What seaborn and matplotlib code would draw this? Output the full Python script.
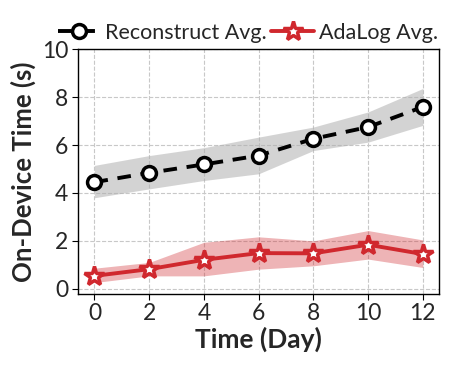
import matplotlib
matplotlib.use("Agg")
import matplotlib.pyplot as plt
import seaborn as sns
import pandas as pd

days = [0, 2, 4, 6, 8, 10, 12]
recon_avg = [4.45, 4.84, 5.19, 5.56, 6.26, 6.75, 7.59]
recon_low = [3.80, 4.17, 4.52, 4.80, 5.77, 6.12, 6.82]
recon_high = [5.15, 5.56, 5.89, 6.33, 6.75, 7.38, 8.36]
ada_avg = [0.54, 0.82, 1.21, 1.49, 1.48, 1.84, 1.45]
ada_low = [0.26, 0.54, 0.54, 0.82, 0.96, 1.24, 0.89]
ada_high = [0.86, 1.10, 1.94, 2.17, 2.00, 2.43, 2.04]

sns.set_theme(style="ticks")
plt.rcParams['font.family'] = ['Lato', 'DejaVu Sans']

fig, ax = plt.subplots(figsize=(4.59, 3.67), dpi=100)
red = '#D0282E'

df_r = pd.DataFrame({'day': days, 'val': recon_avg})
df_a = pd.DataFrame({'day': days, 'val': ada_avg})

ax.fill_between(days, recon_low, recon_high, color='#b0b0b0', alpha=0.55, linewidth=0)
ax.fill_between(days, ada_low, ada_high, color=red, alpha=0.35, linewidth=0)

sns.lineplot(data=df_r, x='day', y='val', ax=ax, color='black', linewidth=2.8,
             linestyle=(0, (3.5, 2.5)), marker='o', markersize=10, markerfacecolor='white',
             markeredgecolor='black', markeredgewidth=2.5, label='Reconstruct Avg.')
sns.lineplot(data=df_a, x='day', y='val', ax=ax, color=red, linewidth=2.8,
             marker='*', markersize=15, markerfacecolor='white',
             markeredgecolor=red, markeredgewidth=2.5, label='AdaLog Avg.')

ax.set_xlim(-0.6, 12.6)
ax.set_ylim(-0.2, 10)
ax.set_xticks(days)
ax.set_yticks([0, 2, 4, 6, 8, 10])
ax.grid(True, linestyle='--', color='#c8c8c8', linewidth=0.8)
ax.tick_params(labelsize=16.5, length=4, width=0.8, color='black', pad=3)
for s in ax.spines.values():
    s.set_color('black')
    s.set_linewidth(1.0)
ax.set_xlabel('Time (Day)', fontsize=19, fontweight='bold', labelpad=2)
ax.set_ylabel('On-Device Time (s)', fontsize=18.5, fontweight='bold', labelpad=4)

ax.legend(loc='lower center', bbox_to_anchor=(0.47, 0.99), ncol=2, frameon=False,
          fontsize=15.5, handlelength=2.0, handletextpad=0.2, columnspacing=0.2,
          borderaxespad=0)

fig.subplots_adjust(left=0.17, right=0.957, top=0.866, bottom=0.2)
fig.savefig('out.png', dpi=100)
